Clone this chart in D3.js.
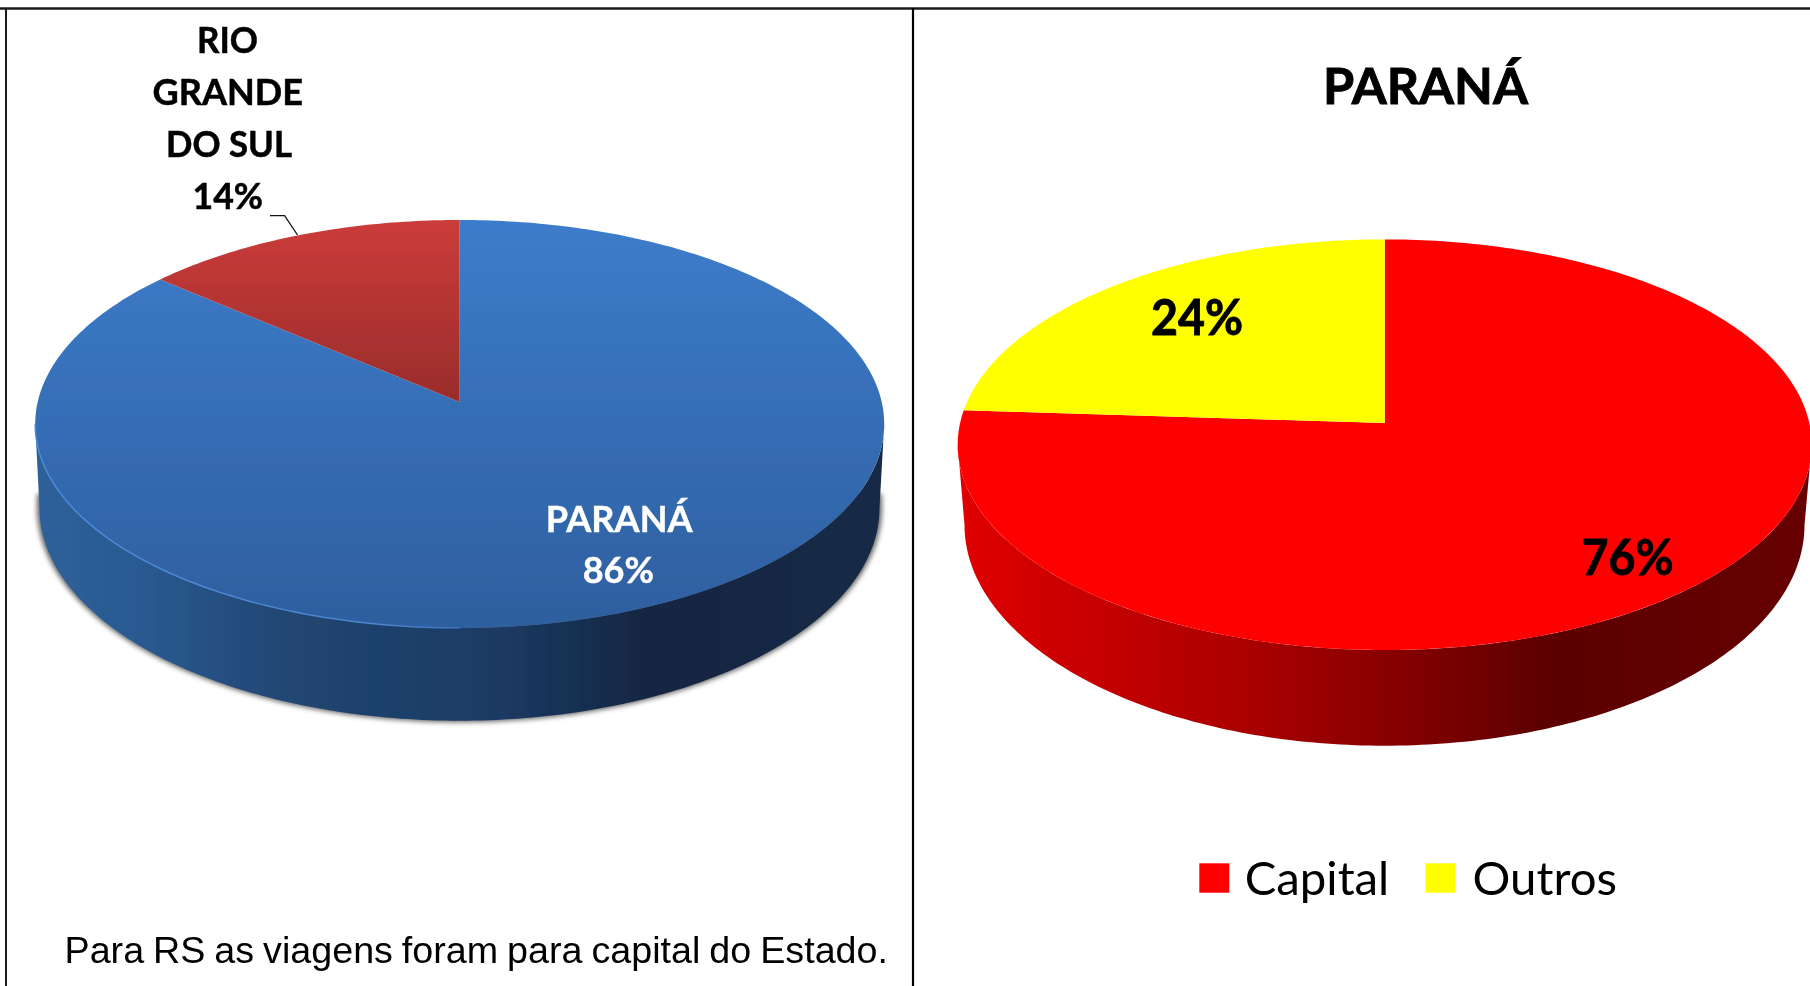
<!DOCTYPE html>
<html>
<head>
<meta charset="utf-8">
<script src="https://cdn.jsdelivr.net/npm/d3@7"></script>
<style>
html,body{margin:0;padding:0;background:#fff;overflow:hidden}
svg{display:block}
</style>
</head>
<body>
<svg id="chart" width="1810" height="986"></svg>
<script>
// ---- data ----
const leftCategories = ["PARANÁ", "RIO GRANDE DO SUL"];
const leftValues = [86, 14];
const rightCategories = ["Capital", "Outros"];
const rightValues = [76, 24];
const rightTitle = "PARANÁ";
const footnote = "Para RS as viagens foram para capital do Estado.";

// ---- layout ----
const svg = d3.select("#chart");
const defs = svg.append("defs");
const FONT = "Lato, Carlito, sans-serif";

const leftGeom  = {cx:459.7, cy:424,   rx:424.5, ry:204,   apexY:402, k:0.13,   bcx:459.5, bcy:508, brx:420, bry:212.7};
const rightGeom = {cx:1384.7,cy:444.7, rx:427,   ry:205.3, apexY:423, k:0.1057, bcx:1384.5,bcy:525, brx:420, bry:220.7};

function gradient(id, x1, y1, x2, y2, stops){
  const g = defs.append("linearGradient").attr("id", id)
    .attr("gradientUnits","userSpaceOnUse")
    .attr("x1",x1).attr("y1",y1).attr("x2",x2).attr("y2",y2);
  stops.forEach(s => {
    const st = g.append("stop").attr("offset",s[0]).attr("stop-color",s[1]);
    if (s[2] !== undefined) st.attr("stop-opacity",s[2]);
  });
  return `url(#${id})`;
}
const blueTop = gradient("blueTop",0,220,0,628,[[0,"#3d7ccb"],[1,"#2e5f9f"]]);
const redTop  = gradient("redTop",0,220,0,402,[[0,"#cc3c3a"],[1,"#992c2b"]]);
const blueWall = gradient("blueWall",35,0,884,0,[[0,"#2f6099"],[0.12,"#2a5a92"],[0.3,"#214672"],[0.55,"#1b3a63"],[0.72,"#132642"],[1,"#152a46"]]);
const redWall  = gradient("redWall",958,0,1810,0,[[0,"#e00000"],[0.15,"#c80000"],[0.35,"#a80000"],[0.55,"#7e0000"],[0.69,"#5c0000"],[1,"#660000"]]);
const rimGrad  = gradient("rimGrad",35,0,600,0,[[0,"#4d8ad6",1],[0.6,"#4d8ad6",0.9],[1,"#4d8ad6",0]]);

function blurFilter(id, sd){
  defs.append("filter").attr("id",id)
    .attr("x","-5%").attr("y","-10%").attr("width","110%").attr("height","120%")
    .append("feGaussianBlur").attr("stdDeviation",sd);
}
blurFilter("soft",2.6);
blurFilter("tiny",0.45);

// projects an angle on the pie disc (0 = top, clockwise) to the perspective ellipse
function project(g, a){
  const k = g.k, u = Math.sin(a), v = -Math.cos(a), d = 1 - k*v;
  return [g.cx + g.rx*Math.sqrt(1-k*k)*u/d, g.cy + g.ry*(v-k)/d];
}
const line = d3.line();
function sliceD(g, s){
  const n = Math.ceil((s.endAngle-s.startAngle)*60);
  const pts = d3.range(n+1).map(i => project(g, s.startAngle+(s.endAngle-s.startAngle)*i/n));
  return line([[g.cx, g.apexY], ...pts]) + "Z";
}
function wallD(g){
  const n = 180;
  const top = d3.range(n+1).map(i => { const t=Math.PI*i/n; return [g.cx+g.rx*Math.cos(t), g.cy+g.ry*Math.sin(t)]; });
  const bot = d3.range(n+1).map(i => { const t=Math.PI*(1-i/n); return [g.bcx+g.brx*Math.cos(t), g.bcy+g.bry*Math.sin(t)]; });
  return line([...top, ...bot]) + "Z";
}
function shadowD(g){
  const n = 180, rx = g.brx + 2.5, ry = g.bry + 1.5;
  const bot = d3.range(n+1).map(i => { const t=Math.PI*i/n; return [g.bcx+rx*Math.cos(t), g.bcy+ry*Math.sin(t)]; });
  return line([[g.bcx+rx, g.bcy-14], ...bot, [g.bcx-rx, g.bcy-14]]) + "Z";
}
function fitText(text, x0, x1, base, size, weight, fill, bold){
  return svg.append("text").attr("x",x0).attr("y",base)
    .attr("font-family",FONT).attr("font-size",size).attr("font-weight",weight).attr("fill",fill)
    .attr("stroke",bold ? fill : "none").attr("stroke-width",bold || 0)
    .attr("filter","url(#tiny)")
    .attr("textLength",x1-x0).attr("lengthAdjust","spacingAndGlyphs").text(text);
}

// ---- left pie ----
const pie = d3.pie().sort(null).value(d => d);
const leftColor = d3.scaleOrdinal().domain(leftCategories).range([blueTop, redTop]);
const leftArcs = pie(leftValues);

svg.append("path").attr("d", shadowD(leftGeom)).attr("fill","#666").attr("filter","url(#soft)");
const leftPie = svg.append("g").attr("filter","url(#tiny)");
leftPie.append("path").attr("d", wallD(leftGeom)).attr("fill",blueWall);
leftPie.append("g").selectAll("path").data(leftArcs).join("path")
  .attr("d", d => sliceD(leftGeom, d))
  .attr("fill", (d,i) => leftColor(leftCategories[i]));
leftPie.append("path")
  .attr("d", line(d3.range(0,91).map(i => {
    const t = Math.PI*(0.5 + i/180);
    return [leftGeom.cx+leftGeom.rx*Math.cos(t), leftGeom.cy+leftGeom.ry*Math.sin(t)];
  })))
  .attr("fill","none").attr("stroke",rimGrad).attr("stroke-width",1.5);

// leader line, from the 14% label to the slice
svg.append("path").attr("d","M270,215.7H284.6L297.5,235").attr("fill","none").attr("stroke","#111").attr("stroke-width",1.3);

// left labels
fitText("RIO",197,258,53,36,700,"#000",0.5);
fitText("GRANDE",152.6,303,104.5,36,700,"#000",0.5);
fitText("DO SUL",166,292,157,36,700,"#000",0.5);
fitText(leftValues[1]+"%",192.5,263,209.3,36,700,"#000",0.5);
fitText(leftCategories[0],545.8,692.5,531.7,36,700,"#fff",0.4);
fitText(leftValues[0]+"%",582.7,654,583.3,36,700,"#fff",0.4);

// ---- right pie ----
const rightColor = d3.scaleOrdinal().domain(rightCategories).range(["#ff0000","#ffff00"]);
const rightArcs = pie(rightValues);
const rightPie = svg.append("g").attr("filter","url(#tiny)");
rightPie.append("path").attr("d", wallD(rightGeom)).attr("fill",redWall);
rightPie.append("g").selectAll("path").data(rightArcs).join("path")
  .attr("d", d => sliceD(rightGeom, d))
  .attr("fill", (d,i) => rightColor(rightCategories[i]));

fitText(rightTitle,1323,1528,104,50,700,"#000",0.9);
fitText(rightValues[1]+"%",1151,1243,335,50,700,"#000",0.9);
fitText(rightValues[0]+"%",1581.6,1673.5,575,50,700,"#000",0.9);

// legend
const legendRect = [[1199.3],[1425.5]];
const legendText = [[1244.7,1389.3],[1472.6,1617]];
rightCategories.forEach((c,i) => {
  svg.append("rect").attr("x",legendRect[i][0]).attr("y",863.3).attr("width",30).attr("height",29.4).attr("fill",rightColor(c));
  fitText(c,legendText[i][0],legendText[i][1],895,46,400,"#000",0);
});

// footnote
svg.append("text").attr("x",64.5).attr("y",963.3)
  .attr("font-family","'Liberation Sans', Arial, sans-serif").attr("font-size",36.5).attr("fill","#000")
  .attr("word-spacing",-1.5).attr("filter","url(#tiny)")
  .attr("textLength",823.5).attr("lengthAdjust","spacingAndGlyphs").text(footnote);

// ---- panel frame ----
svg.append("line").attr("x1",0).attr("x2",1810).attr("y1",8.5).attr("y2",8.5).attr("stroke","#1a1a1a").attr("stroke-width",2.4);
svg.append("line").attr("x1",6).attr("x2",6).attr("y1",8).attr("y2",986).attr("stroke","#1a1a1a").attr("stroke-width",2);
svg.append("line").attr("x1",913).attr("x2",913).attr("y1",8).attr("y2",986).attr("stroke","#000").attr("stroke-width",2.2);
</script>
</body>
</html>
